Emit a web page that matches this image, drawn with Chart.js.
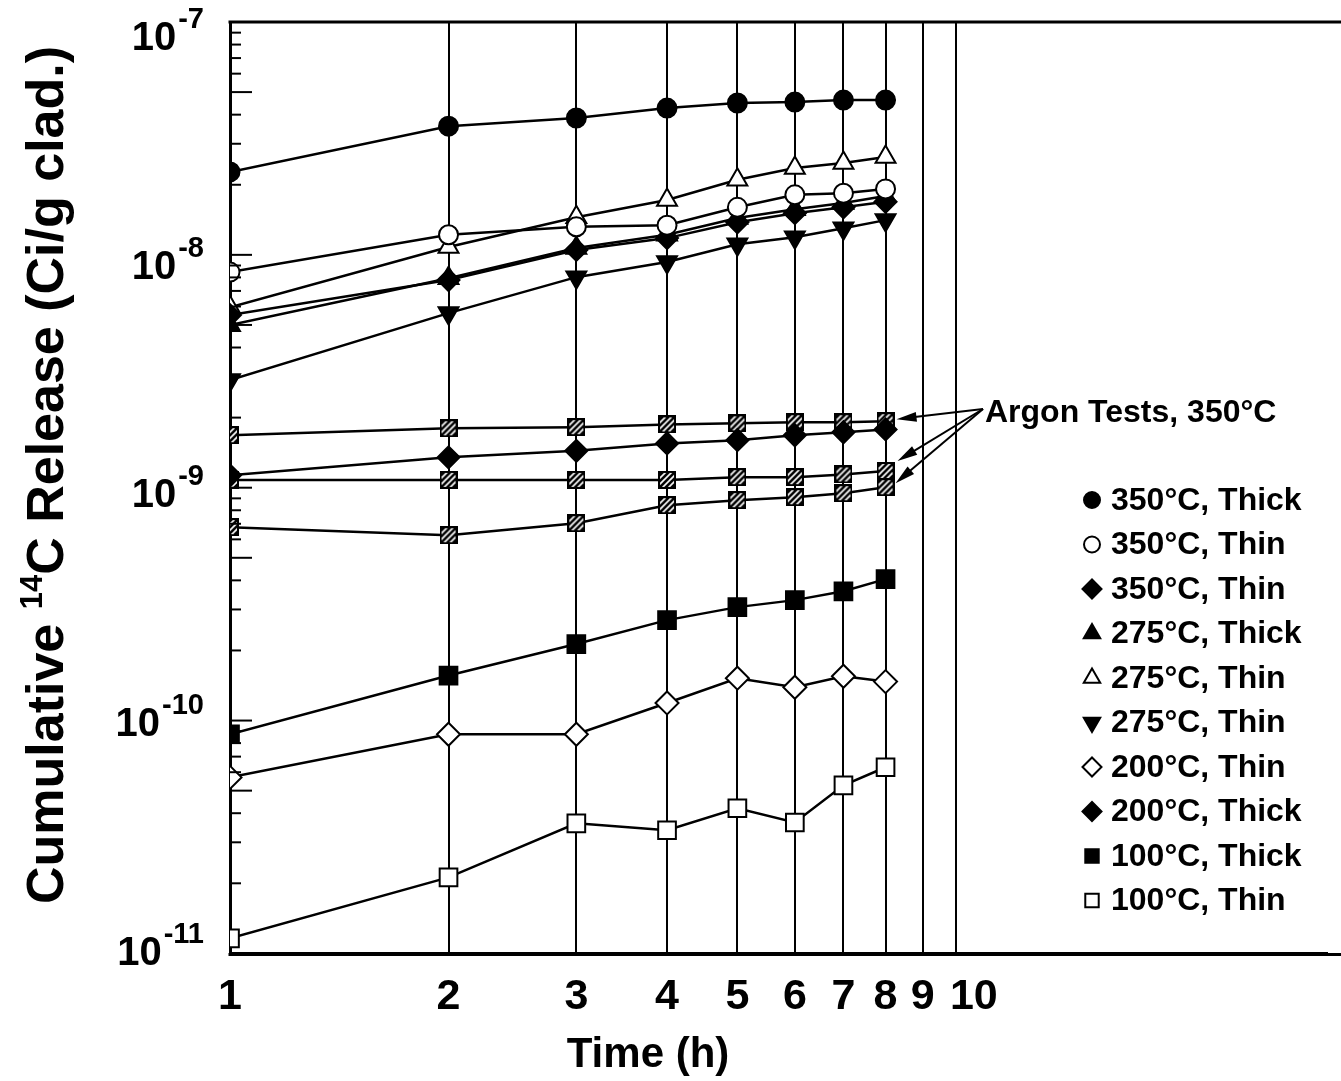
<!DOCTYPE html>
<html><head><meta charset="utf-8">
<script src="https://cdn.jsdelivr.net/npm/chart.js@4.4.0/dist/chart.umd.min.js"></script>
<style>html,body{margin:0;padding:0;background:#fff}canvas{display:block}</style>
</head><body>
<canvas id="c" width="1341" height="1081"></canvas>
<script>
const HOURS=[1,2,3,4,5,6,7,8];
const X_TICKS=[1,2,3,4,5,6,7,8,9,10];
const Y_DECADES=[-7,-8,-9,-10,-11];
const LABELS=['350°C, Thick','350°C, Thin','350°C, Thin','275°C, Thick','275°C, Thin','275°C, Thin','200°C, Thin','200°C, Thick','100°C, Thick','100°C, Thin'];
const ARGON_LABEL='Argon Tests, 350°C';
const X_TITLE='Time (h)';
const Y_TITLE=['Cumulative ','14','C Release (Ci/g clad.)'];

const s350thick =[2.27e-8,3.57e-8,3.87e-8,4.27e-8,4.49e-8,4.53e-8,4.62e-8,4.62e-8];
const s350thinO =[8.43e-9,1.22e-8,1.32e-8,1.34e-8,1.60e-8,1.81e-8,1.84e-8,1.92e-8];
const s350thinD =[5.51e-9,7.79e-9,1.05e-8,1.18e-8,1.38e-8,1.51e-8,1.60e-8,1.69e-8];
const s275thick =[4.99e-9,7.94e-9,1.07e-8,1.22e-8,1.44e-8,1.57e-8,1.67e-8,1.79e-8];
const s275thinO =[5.96e-9,1.08e-8,1.45e-8,1.72e-8,2.10e-8,2.36e-8,2.48e-8,2.63e-8];
const s275thinV =[2.90e-9,5.62e-9,8.02e-9,9.31e-9,1.11e-8,1.19e-8,1.30e-8,1.41e-8];
const s200thin  =[5.70e-11,8.73e-11,8.73e-11,1.19e-10,1.52e-10,1.39e-10,1.55e-10,1.47e-10];
const s200thick =[1.13e-9,1.35e-9,1.44e-9,1.55e-9,1.60e-9,1.68e-9,1.73e-9,1.78e-9];
const s100thick =[8.73e-11,1.56e-10,2.13e-10,2.70e-10,3.07e-10,3.29e-10,3.59e-10,4.05e-10];
const s100thin  =[1.16e-11,2.12e-11,3.62e-11,3.38e-11,4.20e-11,3.65e-11,5.27e-11,6.30e-11];
const argonA=[1.68e-9,1.80e-9,1.82e-9,1.87e-9,1.89e-9,1.91e-9,1.91e-9,1.93e-9];
const argonB=[1.08e-9,1.08e-9,1.08e-9,1.08e-9,1.11e-9,1.11e-9,1.14e-9,1.18e-9];
const argonC=[6.77e-10,6.25e-10,7.04e-10,8.41e-10,8.84e-10,9.10e-10,9.47e-10,1.005e-9];

const FONT='"Liberation Sans", Arial, Helvetica, sans-serif';

// hatched square marker used for the argon runs
function hatchBox(sz){
  const cv=document.createElement('canvas');cv.width=cv.height=sz;
  const g=cv.getContext('2d');
  g.fillStyle='#fff';g.fillRect(1,1,sz-2,sz-2);
  g.save();g.beginPath();g.rect(1,1,sz-2,sz-2);g.clip();
  g.strokeStyle='#000';g.lineWidth=2.6;
  for(let o=-sz;o<=sz;o+=6){g.beginPath();g.moveTo(o,sz);g.lineTo(o+sz,0);g.stroke();}
  g.restore();
  g.strokeStyle='#000';g.lineWidth=2;g.strokeRect(1,1,sz-2,sz-2);
  return cv;
}
const HATCH=hatchBox(18);

const mk=(label,data,style,fill,r,rot,legend)=>({
  label,data:HOURS.map((h,i)=>({x:h,y:data[i]})),
  borderColor:'#000',borderWidth:2.5,tension:0,
  pointStyle:style,pointRadius:r,pointHoverRadius:r,pointRotation:rot||0,
  pointBackgroundColor:fill,pointBorderColor:'#000',pointBorderWidth:2,
  inLegend:legend
});
const datasets=[
  mk(LABELS[0],s350thick,'circle','#000',9.5,0,true),
  mk(LABELS[1],s350thinO,'circle','#fff',9.5,0,true),
  mk(LABELS[2],s350thinD,'rectRot','#000',11,0,true),
  mk(LABELS[3],s275thick,'triangle','#000',11.5,0,true),
  mk(LABELS[4],s275thinO,'triangle','#fff',11.5,0,true),
  mk(LABELS[5],s275thinV,'triangle','#000',11.5,180,true),
  mk(LABELS[6],s200thin,'rectRot','#fff',11.5,0,true),
  mk(LABELS[7],s200thick,'rectRot','#000',11,0,true),
  mk(LABELS[8],s100thick,'rect','#000',12.5,0,true),
  mk(LABELS[9],s100thin,'rect','#fff',12.5,0,true),
  mk(ARGON_LABEL,argonA,HATCH,'#fff',9,0,false),
  mk(ARGON_LABEL,argonB,HATCH,'#fff',9,0,false),
  mk(ARGON_LABEL,argonC,HATCH,'#fff',9,0,false)
];

function drawMarker(ctx,ds,x,y,r){
  ctx.fillStyle=ds.pointBackgroundColor;ctx.strokeStyle='#000';ctx.lineWidth=2;
  const o={pointStyle:ds.pointStyle,radius:r,rotation:ds.pointRotation,borderWidth:2};
  if(Chart.helpers&&Chart.helpers.drawPoint){Chart.helpers.drawPoint(ctx,o,x,y);return;}
  ctx.beginPath();ctx.arc(x,y,r,0,Math.PI*2);ctx.fill();ctx.stroke();
}
function arrow(ctx,x0,y0,x1,y1){
  const a=Math.atan2(y1-y0,x1-x0),L=20,W=5;
  ctx.beginPath();ctx.moveTo(x0,y0);ctx.lineTo(x1-Math.cos(a)*L*0.8,y1-Math.sin(a)*L*0.8);ctx.stroke();
  ctx.beginPath();ctx.moveTo(x1,y1);
  ctx.lineTo(x1-Math.cos(a)*L-Math.sin(a)*W,y1-Math.sin(a)*L+Math.cos(a)*W);
  ctx.lineTo(x1-Math.cos(a)*L+Math.sin(a)*W,y1-Math.sin(a)*L-Math.cos(a)*W);
  ctx.closePath();ctx.fill();
}

const deco={
  id:'deco',
  afterDraw(chart){
    const {ctx,chartArea:a,scales:{x,y}}=chart;
    ctx.save();
    ctx.strokeStyle='#000';ctx.fillStyle='#000';
    // top and bottom frame lines run out to the edge
    ctx.lineWidth=3;ctx.beginPath();ctx.moveTo(a.left-1.5,a.top);ctx.lineTo(chart.width,a.top);ctx.stroke();
    ctx.beginPath();ctx.moveTo(a.left-1.5,a.bottom+1);ctx.lineTo(chart.width,a.bottom+1);ctx.stroke();
    // minor ticks pointing into the plot
    ctx.lineWidth=2;
    y.ticks.forEach(t=>{
      const py=y.getPixelForValue(t.value);
      const m=Math.round(t.value/Math.pow(10,Math.floor(Math.log10(t.value)+1e-9)))%10;
      const len=(m===5||m===1)?22:11;
      ctx.beginPath();ctx.moveTo(a.left,py);ctx.lineTo(a.left+len,py);ctx.stroke();
    });
    // decade labels 10^n
    Y_DECADES.forEach((e,k)=>{
      const py=y.getPixelForValue(Math.pow(10,e))+17-4.2*k;
      const ex='-'+(-e);
      ctx.font='bold 29px '+FONT;ctx.textBaseline='middle';ctx.textAlign='right';
      const ew=ctx.measureText(ex).width;
      ctx.fillText(ex,204,py-19);
      ctx.font='bold 40px '+FONT;
      ctx.fillText('10',204-ew-2,py);
    });
    // x title, centred where the original puts it
    ctx.font='bold 42px '+FONT;ctx.textAlign='center';ctx.textBaseline='middle';
    ctx.fillText(X_TITLE,648,1055);
    // y title with superscript
    ctx.save();
    ctx.translate(63,475);ctx.rotate(-Math.PI/2);
    ctx.textBaseline='alphabetic';ctx.textAlign='left';
    const fBig='bold 52px '+FONT,fSup='bold 31px '+FONT;
    ctx.font=fBig;const w1=ctx.measureText(Y_TITLE[0]).width,w3=ctx.measureText(Y_TITLE[2]).width;
    ctx.font=fSup;const w2=ctx.measureText(Y_TITLE[1]).width;
    let sx=-(w1+w2+w3)/2;
    ctx.font=fBig;ctx.fillText(Y_TITLE[0],sx,0);sx+=w1;
    ctx.font=fSup;ctx.fillText(Y_TITLE[1],sx,-21);sx+=w2;
    ctx.font=fBig;ctx.fillText(Y_TITLE[2],sx,0);
    ctx.restore();
    // legend
    let ly=500;
    chart.data.datasets.forEach(ds=>{
      if(!ds.inLegend)return;
      const r=ds.pointStyle==='circle'?8:9.5;
      drawMarker(ctx,ds,1092,ly,r);
      ctx.fillStyle='#000';ctx.font='bold 32px '+FONT;ctx.textAlign='left';ctx.textBaseline='middle';
      ctx.fillText(ds.label,1111,ly+1);
      ly+=44.5;
    });
    // argon annotation and arrows
    ctx.font='bold 32px '+FONT;ctx.textAlign='left';ctx.textBaseline='middle';
    ctx.fillText(ARGON_LABEL,985,413);
    ctx.lineWidth=2;
    const tips=[[11,-2],[12,-10],[10,-4]];
    [10,11,12].forEach((di,j)=>{
      const p=chart.getDatasetMeta(di).data[HOURS.length-1];
      arrow(ctx,983,409,p.x+tips[j][0],p.y+tips[j][1]);
    });
    ctx.restore();
  }
};

new Chart(document.getElementById('c'),{
  type:'line',
  data:{datasets},
  options:{
    responsive:false,devicePixelRatio:1,animation:false,
    layout:{padding:{left:222,top:22,right:0,bottom:40}},
    plugins:{legend:{display:false},tooltip:{enabled:false}},
    scales:{
      x:{
        type:'logarithmic',min:1,max:32.4,
        afterBuildTicks:s=>{s.ticks=X_TICKS.map(v=>({value:v}));},
        grid:{color:'#000',lineWidth:2,drawTicks:false},
        border:{color:'#000',width:3},
        ticks:{autoSkip:false,maxRotation:0,padding:18,color:'#000',font:{family:FONT,size:43,weight:'bold'},
          callback:v=>v===10?'   10':String(v)},
        title:{display:false}
      },
      y:{
        type:'logarithmic',min:1e-11,max:1e-7,
        afterBuildTicks:s=>{
          const t=[];
          Y_DECADES.slice().reverse().forEach(e=>{for(let m=1;m<=9;m++)t.push({value:m*Math.pow(10,e)});});
          t.push({value:1e-7});s.ticks=t;
        },
        grid:{display:false},
        border:{display:true,color:'#000',width:3},
        ticks:{display:false}
      }
    }
  },
  plugins:[deco]
});
</script>
</body></html>
